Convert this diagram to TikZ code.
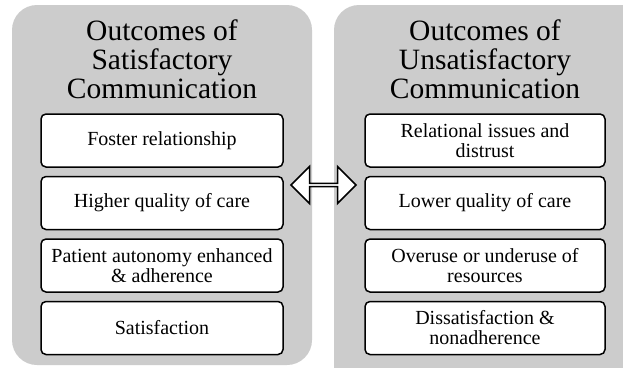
\documentclass[tikz,border=0pt]{standalone}
\usepackage{fontspec}
\setmainfont{Liberation Serif}
\usetikzlibrary{positioning,shapes.arrows}
\definecolor{panelgray}{RGB}{204,204,204}
\newcommand{\titlefont}{\fontsize{29.5}{29}\selectfont}
\newcommand{\boxfont}{\fontsize{20}{20}\selectfont}
\begin{document}
\begin{tikzpicture}
    [
    x=1pt, y=-1pt,
    panel/.style = {fill=panelgray,rounded corners=25pt},
    outcome/.style = {draw,fill=white,line width=1.5pt,rounded corners=5pt,minimum width=242pt,minimum height=53pt,inner sep=0pt,align=center,font=\boxfont},
    heading/.style = {align=center,font=\titlefont,inner sep=0pt}
    ]
\clip (0,0) rectangle (623,367);
\fill[white] (0,0) rectangle (623,367);

\fill[panel] (12,5) rectangle (312,365);
\fill[panel] (334,5) rectangle (650,395);

\node[outcome] (sat1) at (162,140.5) {Foster relationship};
\node[outcome,below=8pt of sat1] (sat2) {Higher quality of care};
\node[outcome,below=8pt of sat2] (sat3) {Patient autonomy enhanced\\ \& adherence};
\node[outcome,below=8pt of sat3] (sat4) {Satisfaction};
\node[heading,above=14pt of sat1] (sathead) {Outcomes of\\Satisfactory\\Communication};

\node[outcome,minimum width=240pt] (uns1) at (485,140.5) {Relational issues and\\distrust};
\node[outcome,minimum width=240pt,below=8pt of uns1] (uns2) {Lower quality of care};
\node[outcome,minimum width=240pt,below=8pt of uns2] (uns3) {Overuse or underuse of\\resources};
\node[outcome,minimum width=240pt,below=8pt of uns3] (uns4) {Dissatisfaction \&\\nonadherence};
\node[heading,above=14pt of uns1] (unshead) {Outcomes of\\Unsatisfactory\\Communication};

\node[double arrow,draw,fill=white,line width=1.5pt,line join=miter,
      minimum width=37pt,minimum height=65pt,double arrow head extend=8pt,
      inner sep=0pt] (link) at (323.5,185) {};

\end{tikzpicture}
\end{document}
